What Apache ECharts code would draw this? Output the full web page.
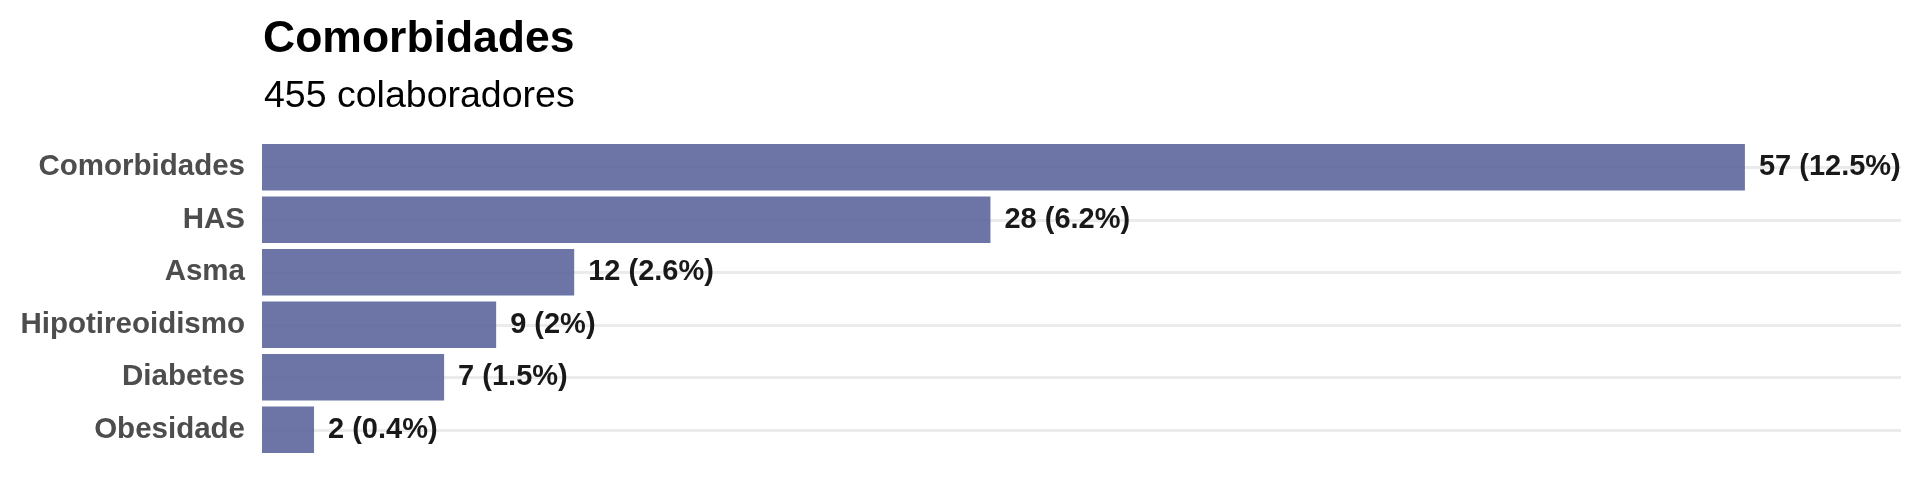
<!DOCTYPE html>
<html>
<head>
<meta charset="utf-8">
<script src="https://cdn.jsdelivr.net/npm/echarts@6/dist/echarts.min.js"></script>
<style>html,body{margin:0;padding:0;background:#fff}#c{width:1920px;height:480px}</style>
</head>
<body>
<div id="c"></div>
<script>
const categories = ["Comorbidades", "HAS", "Asma", "Hipotireoidismo", "Diabetes", "Obesidade"];
const counts = [57, 28, 12, 9, 7, 2];
const percents = ["12.5", "6.2", "2.6", "2", "1.5", "0.4"];
const titleText = "Comorbidades";
const subtitleText = "455 colaboradores";
const xMax = 63;

const FONT = "Liberation Sans";
const chart = echarts.init(document.getElementById('c'), null, {renderer: 'canvas'});
chart.setOption({
  animation: false,
  backgroundColor: '#ffffff',
  title: [
    {text: titleText, left: 258, top: 12, textStyle: {fontFamily: FONT, fontSize: 44.5, fontWeight: 'bold', color: '#000'}},
    {text: subtitleText, left: 259, top: 73, textStyle: {fontFamily: FONT, fontSize: 37.5, fontWeight: 'normal', color: '#000'}}
  ],
  grid: {left: 262, right: 19, top: 141, bottom: 24, containLabel: false},
  xAxis: {type: 'value', min: 0, max: xMax, show: false, splitLine: {show: false}},
  yAxis: {
    type: 'category', data: categories, inverse: true,
    axisLine: {show: false}, axisTick: {show: false},
    axisLabel: {margin: 17, fontFamily: FONT, fontSize: 29.5, fontWeight: 'bold', color: '#4d4d4d'},
    splitLine: {show: true, alignWithLabel: true, lineStyle: {color: '#ebebeb', width: 3}}
  },
  series: [{
    type: 'bar',
    data: counts,
    barCategoryGap: '11%',
    itemStyle: {color: '#5c669c', opacity: 0.9},
    label: {
      show: true, position: 'right', distance: 14,
      fontFamily: FONT, fontSize: 29, fontWeight: 'bold', color: '#000',
      formatter: p => counts[p.dataIndex] + ' (' + percents[p.dataIndex] + '%)'
    }
  }]
});
</script>
</body>
</html>
